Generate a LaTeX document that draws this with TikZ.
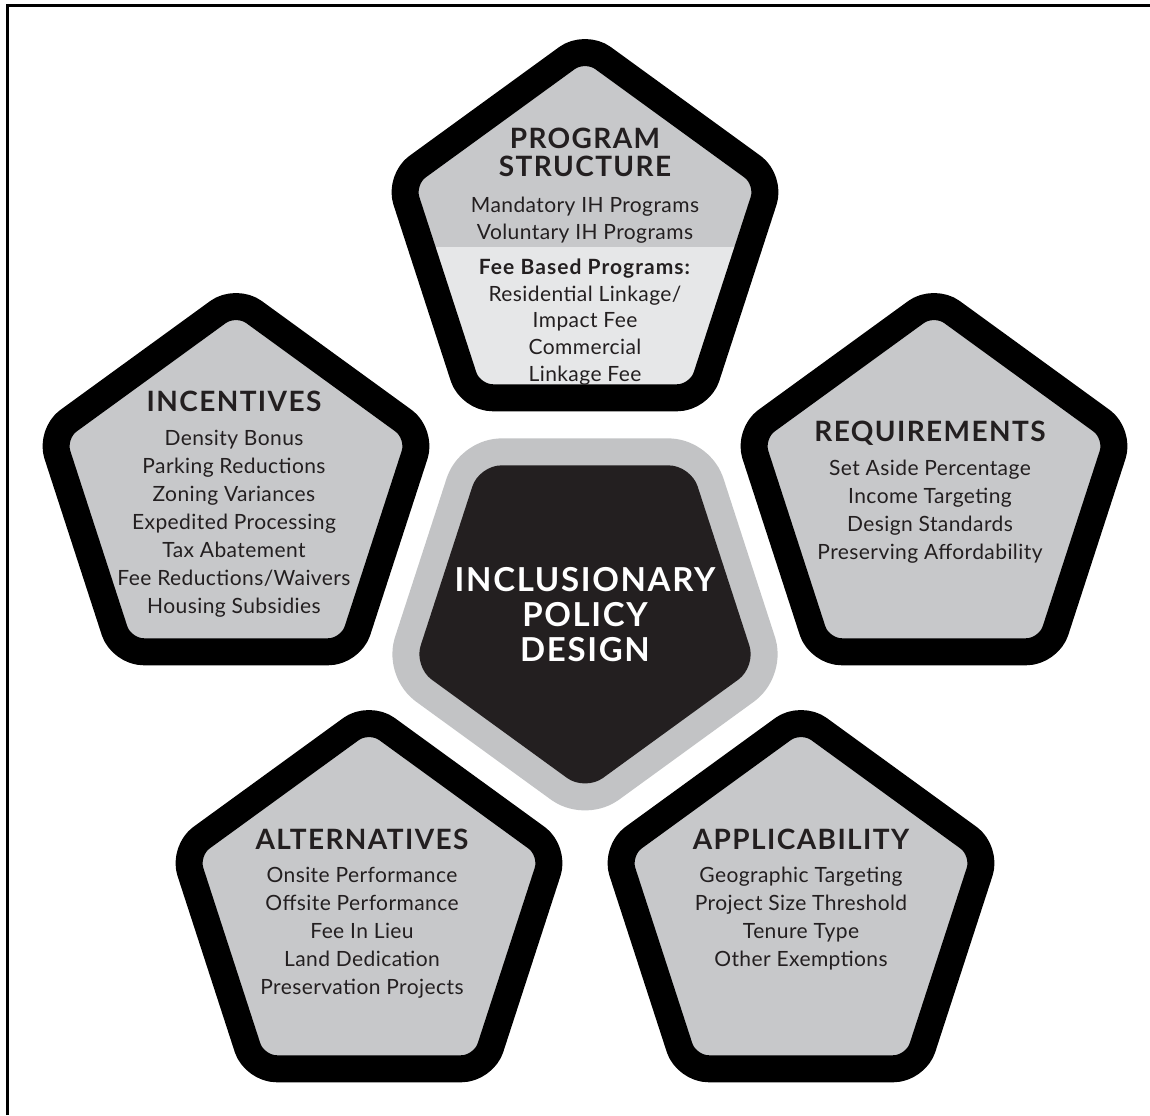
\documentclass[tikz,border=0pt]{standalone}
\usepackage{fontspec}
\setmainfont{Lato}[LetterSpace=2,BoldFeatures={LetterSpace=5}]
\usetikzlibrary{calc,positioning}

\definecolor{pentgray}{HTML}{C7C8CA}
\definecolor{palegray}{HTML}{E6E7E8}
\definecolor{halogray}{HTML}{C2C3C5}
\definecolor{coredark}{HTML}{231F20}

% pentagon path: centre, radius, turn (0 = point up, 180 = point down)
\newcommand{\pent}[3]{($(#1)+({270+#3}:{0.809*#2})$) -- ($(#1)+({306+#3}:#2)$) -- ($(#1)+({18+#3}:#2)$) -- ($(#1)+({90+#3}:#2)$) -- ($(#1)+({162+#3}:#2)$) -- ($(#1)+({234+#3}:#2)$) -- cycle}

\begin{document}
\begin{tikzpicture}[x=0.5pt,y=0.5pt,
    pentline/.style={draw=black,line width=13.5pt,rounded corners=11pt,line join=round},
    hdr/.style={font=\fontsize{14}{14}\selectfont\bfseries,align=center,inner sep=0pt,text=coredark,anchor=north},
    body/.style={font=\fontsize{10.5}{14}\selectfont,align=center,inner sep=0pt,text=coredark}]
  \useasboundingbox (0,0) rectangle (1150,1115);
  \draw[line width=1.5pt] (7.5,0) -- (7.5,1109.5) -- (1150,1109.5);

  \coordinate (prog) at (585,875);
  \coordinate (inc) at (236,621);
  \coordinate (req) at (934,621);
  \coordinate (alt) at (369,204);
  \coordinate (app) at (801,204);
  \coordinate (core) at (585,504);

  % centre piece
  \draw[halogray,line width=27pt,fill=halogray,rounded corners=11pt,line join=round] \pent{core}{180}{180};
  \fill[coredark,rounded corners=11pt] \pent{core}{180}{180};
  \node[font=\fontsize{16.5}{17.5}\selectfont\bfseries,align=center,inner sep=0pt,text=white] (ipd) at (585,500) {INCLUSIONARY\\POLICY\\DESIGN};

  % program structure, lower half paler
  \fill[pentgray,rounded corners=11pt] \pent{prog}{195}{0};
  \begin{scope}
    \clip[rounded corners=11pt] \pent{prog}{195}{0};
    \fill[palegray] (350,868) rectangle (820,640);
  \end{scope}
  \draw[pentline] \pent{prog}{195}{0};
  \draw[pentline,fill=pentgray] \pent{inc}{195}{0};
  \draw[pentline,fill=pentgray] \pent{req}{195}{0};
  \draw[pentline,fill=pentgray] \pent{alt}{195}{0};
  \draw[pentline,fill=pentgray] \pent{app}{195}{0};

  \node[hdr] (proghd) at (585,987.7) {PROGRAM\\STRUCTURE};
  \node[body,font=\fontsize{10.5}{13.4}\selectfont,below=10pt of proghd] (progtxt) {Mandatory IH Programs\\Voluntary IH Programs\\[4pt]\textbf{Fee Based Programs:}\\Residential Linkage/\\Impact Fee\\Commercial\\Linkage Fee};

  \node[hdr] (inchd) at (234,724.7) {INCENTIVES};
  \node[body,below=9pt of inchd] (inctxt) {Density Bonus\\Parking Reductions\\Zoning Variances\\Expedited Processing\\Tax Abatement\\Fee Reductions/Waivers\\Housing Subsidies};

  \node[hdr] (reqhd) at (930,694.7) {REQUIREMENTS};
  \node[body,below=7.2pt of reqhd] (reqtxt) {Set Aside Percentage\\Income Targeting\\Design Standards\\Preserving Affordability};

  \node[hdr] (althd) at (362,286.7) {ALTERNATIVES};
  \node[body,below=8.5pt of althd] (alttxt) {Onsite Performance\\Offsite Performance\\Fee In Lieu\\Land Dedication\\Preservation Projects};

  \node[hdr] (apphd) at (801,286.7) {APPLICABILITY};
  \node[body,below=8.5pt of apphd] (apptxt) {Geographic Targeting\\Project Size Threshold\\Tenure Type\\Other Exemptions};
\end{tikzpicture}
\end{document}
